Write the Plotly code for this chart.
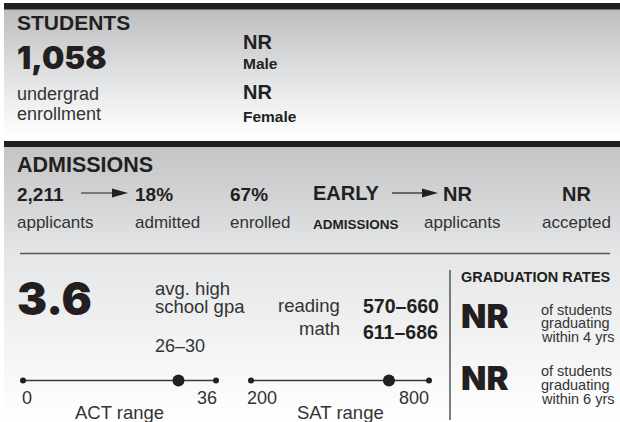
import plotly.graph_objects as go

# ---------------- data ----------------
students_total = "1,058"
students_label = ["undergrad", "enrollment"]
gender_labels = ["Male", "Female"]
gender_values = ["NR", "NR"]
admission_values = ["2,211", "18%", "67%"]
admission_labels = ["applicants", "admitted", "enrolled"]
early_values = ["NR", "NR"]
early_labels = ["applicants", "accepted"]
gpa = "3.6"
gpa_label = ["avg. high", "school gpa"]
act_range = "26–30"
act_scale = [0, 36]
act_marker = 29
sat_subjects = ["reading", "math"]
sat_ranges = ["570–660", "611–686"]
sat_scale = [200, 800]
sat_marker = 665
grad_values = ["NR", "NR"]
grad_labels = [["of students", "graduating", "within 4 yrs"],
               ["of students", "graduating", "within 6 yrs"]]

# ---------------- style ----------------
W, H = 620, 422
REG = "Liberation Sans, Arial, sans-serif"
BOLDN = "Liberation Sans, Arial, sans-serif"
HEAVY = "Inter, Arial Black, sans-serif"
DARK = "#231f20"
TXT = "#333333"
LINE = "#3a3a3a"

fig = go.Figure()
shapes = []
ann = []


def grad_rect(x0, x1, y0, y1, stops):
    fig.add_trace(go.Scatter(
        x=[x0, x1, x1, x0, x0], y=[y0, y0, y1, y1, y0], mode="none",
        fill="toself", hoverinfo="skip", showlegend=False,
        fillgradient=dict(type="vertical", colorscale=stops, start=y0, stop=y1)))


def T(x, y, text, size, fam=REG, weight="normal", xa="left", xref="x",
      color=TXT, xshift=0):
    ann.append(dict(x=x, y=y, xref=xref, yref="y", text=text, showarrow=False,
                    xanchor=xa, yanchor="middle", borderpad=0, borderwidth=0,
                    xshift=xshift,
                    font=dict(family=fam, size=size, weight=weight, color=color)))


def arrow(x0, x1, y):
    shapes.append(dict(type="line", x0=x0, x1=x1 - 14, y0=y, y1=y,
                       xref="x", yref="y", line=dict(color=DARK, width=1.2)))
    shapes.append(dict(type="path", xref="x", yref="y",
                       path=f"M{x1-16},{y-4.5} L{x1},{y} L{x1-16},{y+4.5} Z",
                       fillcolor=DARK, line=dict(width=0)))


# backgrounds
grad_rect(4, W, 9, 137, [[0, "#bcbdbf"], [0.5, "#dfe0e1"], [1, "#ffffff"]])
grad_rect(4, W, 147, H, [[0, "#c3c4c6"], [0.4, "#e5e6e7"], [1, "#ffffff"]])
shapes.append(dict(type="rect", x0=4, x1=W, y0=3, y1=9.5, xref="x", yref="y",
                   fillcolor=DARK, line=dict(width=0)))
shapes.append(dict(type="rect", x0=4, x1=W, y0=141, y1=147, xref="x", yref="y",
                   fillcolor=DARK, line=dict(width=0)))

# ---------------- STUDENTS ----------------
T(17, 22.5, "STUDENTS", 21, REG, "bold", color=DARK)
T(17, 57.5, students_total, 31.5, HEAVY, 900, color=DARK)
T(17, 94, students_label[0], 18)
T(17, 114, students_label[1], 18)
T(243, 41.5, gender_values[0], 20, REG, "bold", color=DARK)
T(243, 63, gender_labels[0], 15.5, REG, "bold", color=DARK)
T(243, 91.5, gender_values[1], 20, REG, "bold", color=DARK)
T(243, 116, gender_labels[1], 15.5, REG, "bold", color=DARK)

# ---------------- ADMISSIONS ----------------
T(17, 165, "ADMISSIONS", 21.5, REG, "bold", color=DARK)
adm_x = [17, 135, 230]
for xv, v, lab in zip(adm_x, admission_values, admission_labels):
    T(xv, 194, v, 19, BOLDN, "bold", color=DARK)
    T(xv, 222, lab, 17)
arrow(81, 128, 193)

T(313, 193, "EARLY", 20, BOLDN, "bold", color=DARK)
T(313, 224.5, "ADMISSIONS", 13.5, REG, "bold", color=DARK)
arrow(392, 438, 193)
T(443, 194, early_values[0], 20, BOLDN, "bold", color=DARK)
T(462.5, 222, early_labels[0], 17, xa="center")
T(576.5, 194, early_values[1], 20, BOLDN, "bold", color=DARK, xa="center")
T(576.5, 222, early_labels[1], 17, xa="center")

# separator lines
shapes.append(dict(type="line", x0=20, x1=610, y0=253.5, y1=253.5, xref="x",
                   yref="y", line=dict(color="#555555", width=1.5)))
shapes.append(dict(type="line", x0=450, x1=450, y0=270, y1=420, xref="x",
                   yref="y", line=dict(color="#555555", width=1.5)))

# ---------------- GPA / tests ----------------
T(17, 298.5, gpa, 45, HEAVY, 900, color=DARK)
T(155, 288.5, gpa_label[0], 18.5)
T(155, 306.5, gpa_label[1], 18.5)
T(155, 345.5, act_range, 18)

T(340, 305, sat_subjects[0], 18.5, xa="right")
T(340, 328.5, sat_subjects[1], 18.5, xa="right")
T(363, 305.5, sat_ranges[0], 19.5, BOLDN, "bold", color=DARK)
T(363, 331.5, sat_ranges[1], 19.5, BOLDN, "bold", color=DARK)

LY = 380.5
for xa_name, scale, mark in (("x2", act_scale, act_marker),
                             ("x3", sat_scale, sat_marker)):
    fig.add_trace(go.Scatter(x=scale, y=[LY, LY], xaxis=xa_name, yaxis="y",
                             mode="lines+markers", showlegend=False,
                             hoverinfo="skip", cliponaxis=False,
                             line=dict(color=LINE, width=1.5),
                             marker=dict(size=6, color=DARK)))
    fig.add_trace(go.Scatter(x=[mark], y=[LY], xaxis=xa_name, yaxis="y",
                             mode="markers", showlegend=False, hoverinfo="skip",
                             marker=dict(size=12, color=DARK)))

T(act_scale[0], 397.5, str(act_scale[0]), 18, xref="x2", xshift=-1)
T(act_scale[1], 397.5, str(act_scale[1]), 18, xref="x2", xa="right", xshift=1)
T(sum(act_scale) / 2, 412, "ACT range", 18.5, xref="x2", xa="center")
T(sat_scale[0], 397.5, str(sat_scale[0]), 18, xref="x3", xshift=-4)
T(sat_scale[1], 397.5, str(sat_scale[1]), 18, xref="x3", xa="right")
T(sum(sat_scale) / 2, 412, "SAT range", 18.5, xref="x3", xa="center")

# ---------------- GRADUATION ----------------
T(461, 277, "GRADUATION RATES", 14.5, REG, "bold", color=DARK)
for i, (v, labs) in enumerate(zip(grad_values, grad_labels)):
    off = 61.5 * i
    T(461, 316 + off, v, 33, HEAVY, 900, color=DARK)
    for j, s in enumerate(labs):
        T(541, 309.5 + off + 13.8 * j, s, 14.5)

fig.update_layout(
    width=W, height=H, margin=dict(l=0, r=0, t=0, b=0),
    paper_bgcolor="white", plot_bgcolor="rgba(0,0,0,0)",
    xaxis=dict(range=[0, W], visible=False, fixedrange=True, domain=[0, 1]),
    xaxis2=dict(range=act_scale, visible=False, fixedrange=True,
                domain=[23 / W, 216 / W], anchor="y"),
    xaxis3=dict(range=sat_scale, visible=False, fixedrange=True,
                domain=[251 / W, 429 / W], anchor="y"),
    yaxis=dict(range=[H, 0], visible=False, fixedrange=True, domain=[0, 1]),
    shapes=shapes, annotations=ann, showlegend=False,
)
fig.write_html("out.html", config={"displayModeBar": False},
               post_script="document.body.style.margin='0';"
                           "document.body.style.overflow='hidden';")
